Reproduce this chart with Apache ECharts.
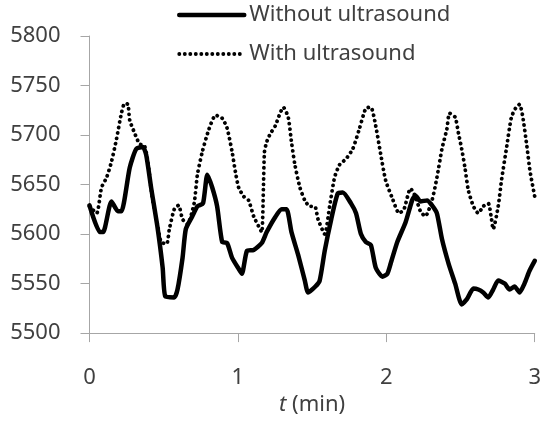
<!DOCTYPE html>
<html>
<head>
<meta charset="utf-8">
<script src="https://cdn.jsdelivr.net/npm/echarts@6/dist/echarts.min.js"></script>
<style>
html,body{margin:0;padding:0;background:#fff;}
#chart{width:544px;height:421px;}
</style>
</head>
<body>
<div id="chart"></div>
<script>
var seriesNames = ['Without ultrasound', 'With ultrasound'];
var xTicks = [0, 1, 2, 3];
var yTicks = [5500, 5550, 5600, 5650, 5700, 5750, 5800];

var tSolid = [0, 0.07, 0.092, 0.148, 0.192, 0.215, 0.271, 0.315, 0.359, 0.382, 0.415, 0.46, 0.493, 0.511, 0.571, 0.593, 0.627, 0.649, 0.693, 0.727, 0.765, 0.794, 0.827, 0.86, 0.894, 0.927, 0.961, 1.005, 1.027, 1.061, 1.106, 1.161, 1.194, 1.251, 1.295, 1.328, 1.361, 1.406, 1.451, 1.473, 1.522, 1.551, 1.585, 1.629, 1.673, 1.707, 1.762, 1.796, 1.829, 1.862, 1.896, 1.929, 1.974, 2.007, 2.029, 2.074, 2.13, 2.174, 2.196, 2.23, 2.275, 2.308, 2.341, 2.375, 2.42, 2.464, 2.508, 2.542, 2.587, 2.62, 2.653, 2.687, 2.72, 2.754, 2.798, 2.831, 2.864, 2.898, 2.931, 2.965, 3.0];
var vSolid = [5629, 5602, 5602, 5633, 5623, 5623, 5667, 5686, 5688, 5680, 5647, 5605, 5566, 5537, 5536, 5544, 5576, 5605, 5618, 5628, 5631, 5660, 5647, 5628, 5592, 5591, 5576, 5565, 5560, 5583, 5584, 5591, 5602, 5617, 5625, 5625, 5602, 5579, 5553, 5541, 5547, 5553, 5583, 5615, 5641, 5642, 5631, 5621, 5600, 5592, 5589, 5566, 5557, 5560, 5570, 5592, 5612, 5634, 5639, 5633, 5634, 5629, 5621, 5595, 5570, 5550, 5529, 5534, 5545, 5544, 5541, 5536, 5544, 5553, 5550, 5544, 5547, 5541, 5550, 5563, 5573];

var tDotted = [0, 0.048, 0.081, 0.115, 0.148, 0.182, 0.215, 0.237, 0.259, 0.271, 0.304, 0.337, 0.371, 0.393, 0.426, 0.46, 0.482, 0.52, 0.538, 0.571, 0.6, 0.627, 0.66, 0.705, 0.727, 0.76, 0.805, 0.85, 0.894, 0.927, 0.961, 0.983, 1.005, 1.039, 1.072, 1.106, 1.139, 1.161, 1.172, 1.179, 1.194, 1.217, 1.251, 1.284, 1.306, 1.339, 1.361, 1.384, 1.418, 1.451, 1.484, 1.518, 1.54, 1.585, 1.618, 1.651, 1.685, 1.729, 1.774, 1.818, 1.862, 1.896, 1.929, 1.963, 1.996, 2.041, 2.086, 2.119, 2.163, 2.196, 2.23, 2.263, 2.308, 2.341, 2.375, 2.408, 2.426, 2.464, 2.486, 2.508, 2.53, 2.553, 2.587, 2.62, 2.653, 2.687, 2.709, 2.72, 2.754, 2.776, 2.809, 2.843, 2.871, 2.898, 2.92, 2.947, 2.969, 3.0];
var vDotted = [5628, 5621, 5647, 5657, 5673, 5696, 5722, 5732, 5731, 5715, 5702, 5691, 5689, 5673, 5634, 5608, 5592, 5590, 5605, 5625, 5629, 5615, 5610, 5631, 5660, 5683, 5706, 5720, 5717, 5707, 5683, 5663, 5647, 5638, 5634, 5618, 5608, 5602, 5647, 5683, 5693, 5701, 5709, 5722, 5728, 5718, 5693, 5670, 5647, 5634, 5628, 5628, 5615, 5600, 5628, 5657, 5670, 5676, 5686, 5706, 5727, 5728, 5709, 5680, 5654, 5636, 5621, 5625, 5646, 5638, 5623, 5618, 5634, 5657, 5686, 5706, 5722, 5718, 5702, 5686, 5667, 5644, 5628, 5621, 5628, 5631, 5615, 5605, 5628, 5654, 5686, 5718, 5727, 5731, 5718, 5689, 5663, 5638];

function pairs(xs, ys) { return xs.map(function (x, i) { return [x, ys[i]]; }); }

var FONT = 'Noto Sans';
var TXT = '#404040';
var AX = '#a6a6a6';
var solidStyle = {color: '#000000', width: 4.5, cap: 'round', join: 'round'};
var dotStyle = {color: '#000000', width: 3.8, type: [0.1, 5.4], cap: 'round', join: 'round'};

var chart = echarts.init(document.getElementById('chart'), null, {renderer: 'canvas'});
chart.setOption({
  animation: false,
  backgroundColor: '#ffffff',
  textStyle: {fontFamily: FONT},
  grid: {left: 89.5, right: 5.5, top: 36, bottom: 76, containLabel: false},
  legend: {
    orient: 'vertical',
    left: 177,
    top: 4,
    padding: 0,
    itemWidth: 65,
    itemHeight: 14,
    itemGap: 17,
    data: [
      {name: seriesNames[0], lineStyle: solidStyle, itemStyle: {opacity: 0}},
      {name: seriesNames[1], lineStyle: dotStyle, itemStyle: {opacity: 0}}
    ],
    textStyle: {fontFamily: FONT, fontSize: 22, color: TXT}
  },
  xAxis: {
    type: 'value',
    min: xTicks[0],
    max: xTicks[xTicks.length - 1],
    interval: 1,
    name: '{i|t} (min)',
    nameLocation: 'middle',
    nameGap: 54,
    nameTextStyle: {
      fontFamily: FONT, fontSize: 22, color: TXT,
      rich: {i: {fontFamily: FONT, fontSize: 22, fontStyle: 'italic', color: TXT}}
    },
    axisLine: {show: true, onZero: false, lineStyle: {color: AX, width: 1}},
    axisTick: {show: true, inside: false, length: 9, lineStyle: {color: AX}},
    axisLabel: {margin: 34, fontFamily: FONT, fontSize: 22, color: TXT, formatter: function (v) { return String(v); }},
    splitLine: {show: false}
  },
  yAxis: {
    type: 'value',
    min: yTicks[0],
    max: yTicks[yTicks.length - 1],
    interval: 50,
    axisLine: {show: true, onZero: false, lineStyle: {color: AX, width: 1}},
    axisTick: {show: true, inside: false, length: 9, lineStyle: {color: AX}},
    axisLabel: {margin: 29, fontFamily: FONT, fontSize: 22, color: TXT, formatter: function (v) { return String(v); }},
    splitLine: {show: false}
  },
  series: [
    {
      name: seriesNames[0],
      type: 'line',
      data: pairs(tSolid, vSolid),
      showSymbol: false,
      symbol: 'none',
      smooth: 0.2,
      lineStyle: solidStyle,
      itemStyle: {color: '#000000'},
      z: 3
    },
    {
      name: seriesNames[1],
      type: 'line',
      data: pairs(tDotted, vDotted),
      showSymbol: false,
      symbol: 'none',
      smooth: 0.2,
      lineStyle: dotStyle,
      itemStyle: {color: '#000000'},
      z: 2
    }
  ]
});
</script>
</body>
</html>
